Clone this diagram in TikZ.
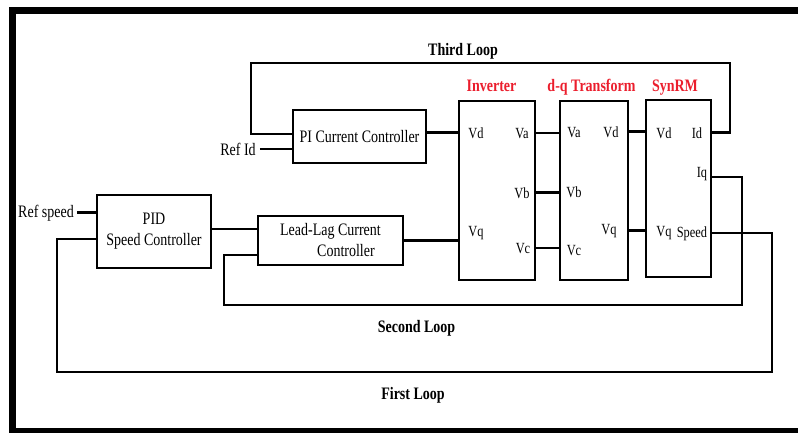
\documentclass[tikz,border=0pt]{standalone}
\usepackage{fontspec}
\setmainfont[FakeStretch=0.8]{Liberation Serif}
\definecolor{lblred}{RGB}{235,30,45}
\begin{document}
\begin{tikzpicture}[x=1pt, y=-1pt, line width=2.6pt,
  block/.style={draw, rectangle, inner sep=0pt},
  txt/.style={font=\fontsize{17.5}{21}\selectfont, inner sep=0pt},
  port/.style={font=\fontsize{15.5}{18}\selectfont, inner sep=0pt, anchor=base},
  looplbl/.style={font=\bfseries\fontsize{17.5}{21}\selectfont, inner sep=0pt, anchor=base},
  title/.style={looplbl, text=lblred}]
\useasboundingbox (0,0) rectangle (798,432);
\draw[line width=7pt] (810,431) -| (12.5,10) -- (810,10);

\node[block, txt, minimum width=133pt, minimum height=53pt] (pi) at (359.5,136.5) {PI Current Controller};
\node[block, minimum width=76pt, minimum height=179pt] (inv) at (497,190.5) {};
\node[block, minimum width=68pt, minimum height=179pt] (dq) at (594,190.5) {};
\node[block, minimum width=65pt, minimum height=177pt] (syn) at (678.5,188.5) {};
\node[block, txt, align=center, minimum width=114pt, minimum height=73pt] (pid) at (154,231.5) {PID\\Speed Controller};
\node[block, txt, align=left, minimum width=145pt, minimum height=49pt] (ll) at (330.5,240.5) {Lead-Lag Current\\\hspace*{37pt}Controller};

\node[title] (invT) at (491.5,91) {Inverter};
\node[title] (dqT) at (591.5,91) {d-q Transform};
\node[title] (synT) at (675,91) {SynRM};
\node[looplbl] (third) at (463,55) {Third Loop};
\node[looplbl] (second) at (416.5,332) {Second Loop};
\node[looplbl] (first) at (413,399) {First Loop};
\node[txt, anchor=base, inner xsep=3pt] (refid) at (238,155) {Ref Id};
\node[txt, anchor=base, inner xsep=2pt] (refsp) at (46,217) {Ref speed};

\node[port] (invVd) at (476,138) {Vd};
\node[port] (invVa) at (522,138) {Va};
\node[port] (invVb) at (522,198) {Vb};
\node[port] (invVc) at (523,253) {Vc};
\node[port] (invVq) at (476,236) {Vq};
\node[port] (dqVa) at (574,137) {Va};
\node[port] (dqVd) at (611,137) {Vd};
\node[port] (dqVb) at (574,197) {Vb};
\node[port] (dqVc) at (574,255) {Vc};
\node[port] (dqVq) at (609,234) {Vq};
\node[port] (synVd) at (664,138) {Vd};
\node[port] (synId) at (697,138) {Id};
\node[port] (synIq) at (702,177.5) {Iq};
\node[port] (synVq) at (664,236) {Vq};
\node[port] (synSp) at (692,237) {Speed};

\draw (pi.east |- invVd) -- (inv.west |- invVd);
\draw (ll.east) -- (inv.west |- ll.east);
\draw ([yshift=2.5pt]pid.east) -- ([yshift=2.5pt]pid.east -| ll.west);
\draw (inv.east |- invVa) -- (dq.west |- invVa);
\draw (inv.east |- invVb) -- (dq.west |- invVb);
\draw (inv.east |- invVc) -- (dq.west |- invVc);
\draw (dq.east |- dqVd) -- (syn.west |- dqVd);
\draw (dq.east |- dqVq) -- (syn.west |- dqVq);
\draw (refid.east) -- (pi.west |- refid.east);
\draw (refsp.east) -- (pid.west |- refsp.east);

\draw (syn.east |- synId) -| (730,63) -| (251,134) -- (pi.west |- 251,134);
\draw (syn.east |- 0,177) -| (742,305) -| (224,255) -- (ll.west |- 224,255);
\draw (syn.east |- 0,233) -| (772,372) -| (57,239) -- (pid.west |- 57,239);
\end{tikzpicture}
\end{document}
